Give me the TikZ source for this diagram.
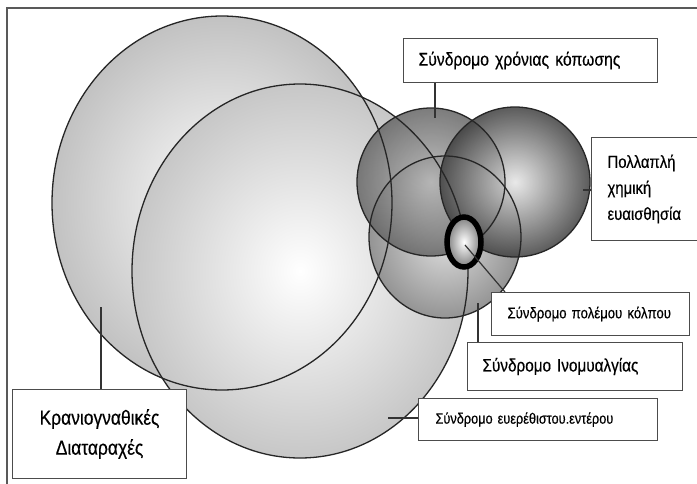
\documentclass[tikz,border=0pt]{standalone}
\usepackage{fontspec}
\setmainfont{Liberation Sans}
\newfontfamily\narrowfont[FakeStretch=0.85,FakeBold=0.4]{Liberation Sans}
\begin{document}
\begin{tikzpicture}[x=1pt,y=-1pt,
  lbl/.style={draw=black!70, fill=white, line width=1.1pt, inner ysep=0pt, anchor=north west, font=\narrowfont},
  outl/.style={draw=black!85, line width=1.3pt},
  lead/.style={draw=black!80, line width=1.2pt}]
\useasboundingbox (0,0) rectangle (697,483);
\fill[white] (0,0) rectangle (697,483);
% big circles
\shade[inner color=white, outer color=black!24] (222,203) ellipse [x radius=170pt, y radius=187pt];
\shade[inner color=white, outer color=black!22] (300,271) ellipse [x radius=168pt, y radius=187pt];
% cluster
\shade[inner color=black!12, outer color=black!42] (445,237) ellipse [x radius=76pt, y radius=81pt];
\shade[inner color=black!28, outer color=black!60, opacity=0.85] (431,182) circle [radius=74pt];
\shade[inner color=black!10, outer color=black!75, opacity=0.85] (515,182) circle [radius=75pt];
% outlines
\draw[outl] (222,203) ellipse [x radius=170pt, y radius=187pt];
\draw[outl] (300,271) ellipse [x radius=168pt, y radius=187pt];
\draw[outl] (445,237) ellipse [x radius=76pt, y radius=81pt];
\draw[outl] (431,182) circle [radius=74pt];
\draw[outl] (515,182) circle [radius=75pt];
% small gulf war ellipse
\shade[inner color=white, outer color=black!50] (464,242) ellipse [x radius=17pt, y radius=25pt];
\draw[black, line width=5.5pt] (464,242) ellipse [x radius=17pt, y radius=25pt];
% frame
\draw[black!65, line width=1.5pt] (7,8) rectangle (720,500);
% labels
\node[lbl, minimum height=44pt, text width=224pt, inner xsep=15pt, font=\narrowfont\fontsize{18.5}{20}\selectfont] (kop) at (403,38) {\mbox{Σύνδρομο χρόνιας κόπωσης}};
\node[lbl, minimum height=103pt, text width=90pt, inner xsep=16pt, align=left, font=\narrowfont\fontsize{17.5}{26}\selectfont] (poll) at (591,137) {Πολλαπλή\\χημική\\ευαισθησία};
\node[lbl, minimum height=43pt, text width=166pt, inner xsep=16pt, font=\narrowfont\fontsize{15.5}{18}\selectfont] (pol) at (491,292) {\mbox{Σύνδρομο πολέμου κόλπου}};
\node[lbl, minimum height=48pt, text width=185pt, inner xsep=15pt, font=\narrowfont\fontsize{18}{20}\selectfont] (ino) at (467,342) {\mbox{Σύνδρομο Ινομυαλγίας}};
\node[lbl, minimum height=42pt, text width=205pt, inner xsep=17pt, font=\narrowfont\fontsize{15}{17}\selectfont] (eve) at (418,398) {\mbox{Σύνδρομο ευερέθιστου.εντέρου}};
\node[lbl, minimum height=89pt, text width=160pt, inner xsep=7pt, align=center, font=\narrowfont\fontsize{20.5}{30}\selectfont] (kra) at (12,389) {Κρανιογναθικές\\Διαταραχές};
% leader ends
\coordinate (kopend) at (435,118);
\coordinate (pollend) at (583,190);
\coordinate (polend) at (465,245);
\coordinate (inoend) at (478,303);
\coordinate (eveend) at (388,418);
\coordinate (kraend) at (101,307);
\draw[lead] (kop.south -| kopend) -- (kopend);
\draw[lead] (poll.west |- pollend) -- (pollend);
\draw[lead] (polend) -- ([xshift=14pt]pol.north west);
\draw[lead] (ino.north -| inoend) -- (inoend);
\draw[lead] (eve.west |- eveend) -- (eveend);
\draw[lead] (kra.north -| kraend) -- (kraend);
\end{tikzpicture}
\end{document}
